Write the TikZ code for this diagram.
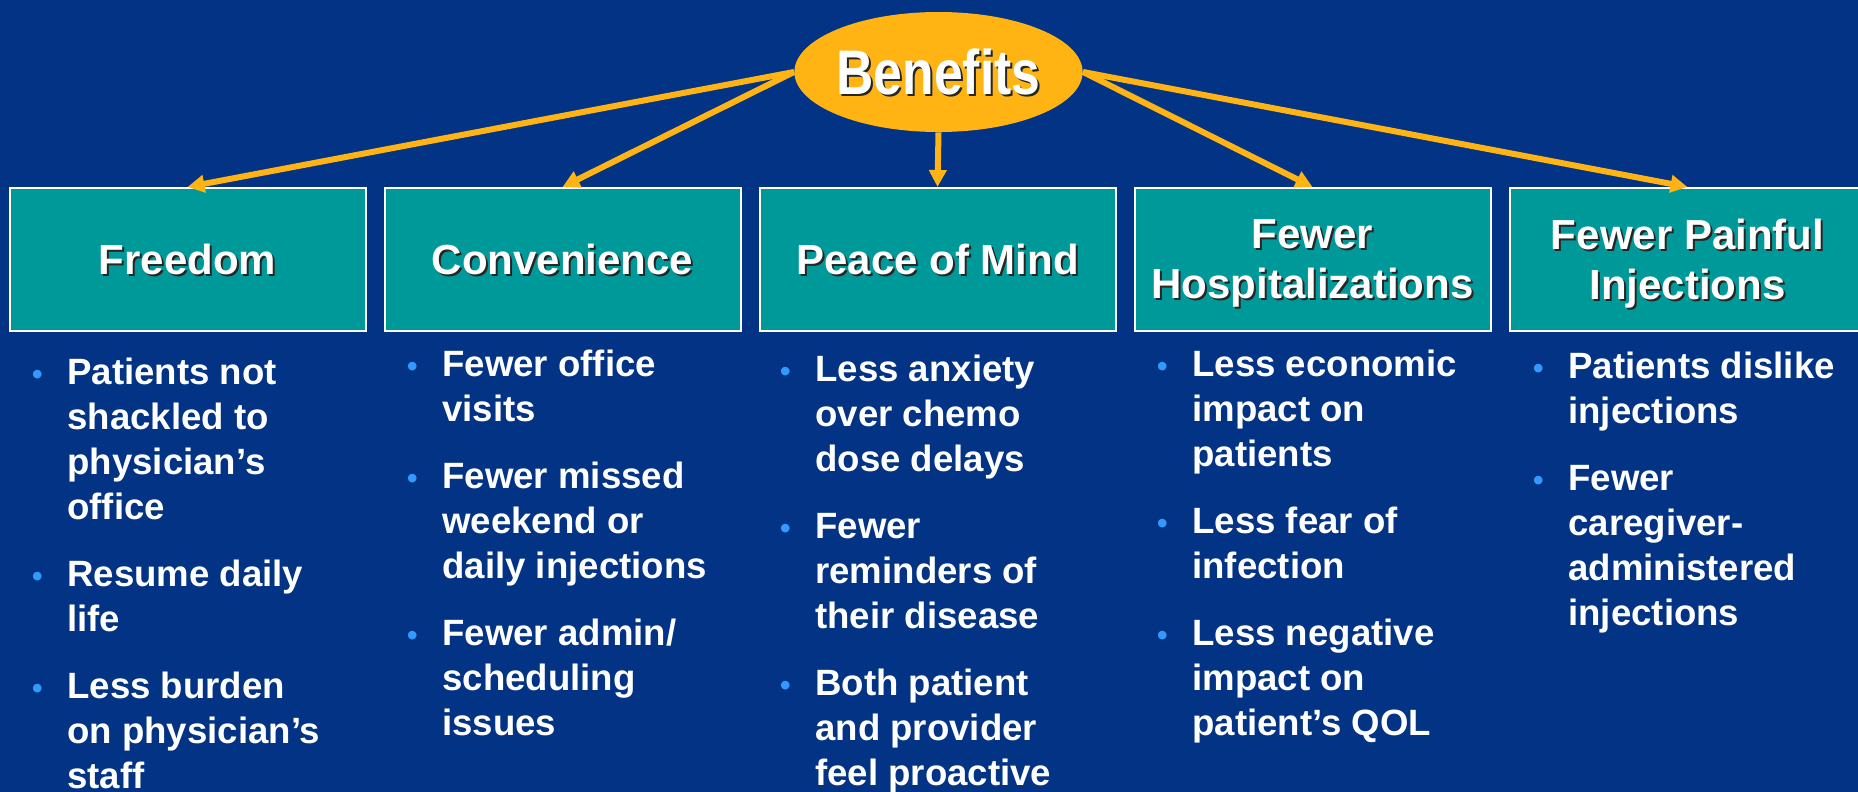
\documentclass[tikz,border=0pt]{standalone}
\usepackage{fontspec}
\setmainfont{Liberation Sans}
\newfontfamily\narrowsans[FakeStretch=0.82]{Liberation Sans}
\usetikzlibrary{positioning, shapes.geometric, arrows.meta}
\definecolor{slideblue}{RGB}{2,51,132}
\definecolor{boxteal}{RGB}{0,153,153}
\definecolor{gold}{RGB}{255,180,20}
\definecolor{dotblue}{RGB}{51,153,255}
\newcommand{\shtext}[1]{\raisebox{0pt}[\height][0pt]{\makebox[0pt][l]{\kern1pt\raisebox{-1pt}{\textcolor{black!85}{#1}}}#1}}
\newcommand{\bul}{\llap{\textcolor{dotblue}{\fontsize{15pt}{15pt}\selectfont •}\hspace{12.4pt}}}
\tikzset{
	benefit/.style={draw=white, line width=1pt, fill=boxteal, minimum width=178pt, minimum height=71.5pt,
		align=center, text=white, font=\bfseries\fontsize{21pt}{25pt}\selectfont},
	items/.style={anchor=base west, align=left, text=white, inner sep=0pt,
		font=\bfseries\fontsize{18.3pt}{22.5pt}\selectfont},
	link/.style={draw=gold, line width=3pt, -{Triangle[length=8.5pt,width=8.5pt]}}
}

\begin{document}
\begin{tikzpicture}[x=0.5pt, y=-0.5pt]
	\path[use as bounding box, fill=slideblue] (0,0) rectangle (1858,792);
	\clip (0,0) rectangle (1858,792);
	
	\node[ellipse, fill=gold, minimum width=137.5pt, minimum height=60pt, inner sep=0pt, text=white,
		font=\narrowsans\bfseries\fontsize{31.5pt}{31.5pt}\selectfont] (benefits) at (938.5,72) {\shtext{Benefits}};
	
	\node[benefit] (freedom) at (187.5,259.5) {\shtext{Freedom}};
	\node[benefit, right=8.5pt of freedom] (convenience) {\shtext{Convenience}};
	\node[benefit, right=8.5pt of convenience] (peace) {\shtext{Peace of Mind}};
	\node[benefit, right=8.5pt of peace] (hosp) {\shtext{Fewer}\\\shtext{Hospitalizations}};
	\node[benefit, right=8.5pt of hosp] (painful) {\shtext{Fewer Painful}\\\shtext{Injections}};
	
	\draw[link] (benefits.west) -- (freedom.north);
	\draw[link] (benefits.west) -- (convenience.north);
	\draw[link] (benefits.south) -- (peace.north);
	\draw[link] (benefits.east) -- (hosp.north);
	\draw[link] (benefits.east) -- (painful.north);
	
	% lists are placed by the baseline of their last line
	\node[items] (freedomlist) at (67,788) {\bul Patients not\\shackled to\\physician’s\\office\\[11pt]%
		\bul Resume daily\\life\\[11pt]%
		\bul Less burden\\on physician’s\\staff};
	\node[items] (convlist) at (442,735) {\bul Fewer office\\visits\\[11pt]%
		\bul Fewer missed\\weekend or\\daily injections\\[11pt]%
		\bul Fewer admin/\\scheduling\\issues};
	\node[items] (peacelist) at (815,785) {\bul Less anxiety\\over chemo\\dose delays\\[11pt]%
		\bul Fewer\\reminders of\\their disease\\[11pt]%
		\bul Both patient\\and provider\\feel proactive};
	\node[items] (hosplist) at (1192,735) {\bul Less economic\\impact on\\patients\\[11pt]%
		\bul Less fear of\\infection\\[11pt]%
		\bul Less negative\\impact on\\patient’s QOL};
	\node[items] (painfullist) at (1568,625) {\bul Patients dislike\\injections\\[11pt]%
		\bul Fewer\\caregiver-\\administered\\injections};
\end{tikzpicture}
\end{document}
